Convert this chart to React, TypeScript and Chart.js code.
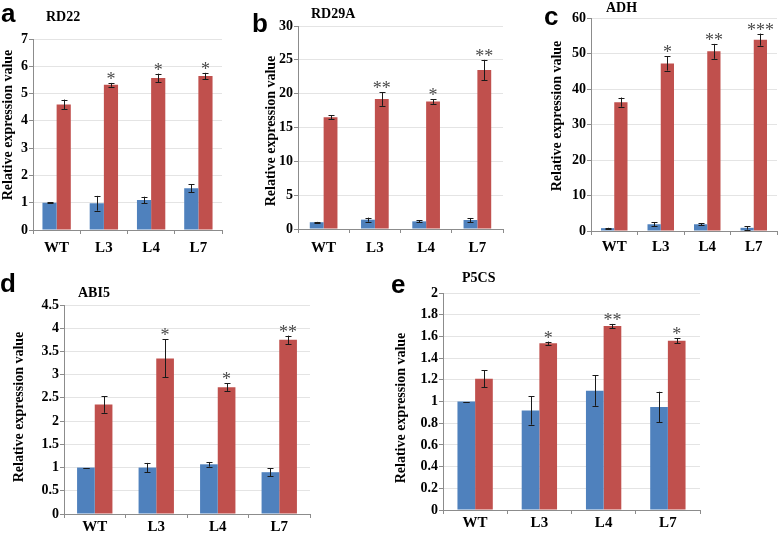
import React, { useEffect, useRef } from "react";
import { Chart, registerables } from "chart.js";
Chart.register(...registerables);

const categories = ["WT", "L3", "L4", "L7"];

const rd22Blue = [1.0, 0.98, 1.1, 1.53];
const rd22BlueErr = [0.02, 0.27, 0.12, 0.15];
const rd22Red = [4.6, 5.32, 5.57, 5.64];
const rd22RedErr = [0.18, 0.07, 0.16, 0.12];
const rd22Stars = ["", "*", "*", "*"];

const rd29aBlue = [1.0, 1.38, 1.13, 1.33];
const rd29aBlueErr = [0.05, 0.3, 0.15, 0.3];
const rd29aRed = [16.5, 19.2, 18.85, 23.5];
const rd29aRedErr = [0.3, 1.0, 0.35, 1.5];
const rd29aStars = ["", "**", "*", "**"];

const adhBlue = [0.8, 1.9, 1.9, 0.9];
const adhBlueErr = [0.1, 0.5, 0.25, 0.5];
const adhRed = [36.3, 47.2, 50.6, 53.9];
const adhRedErr = [1.3, 2.0, 2.1, 1.7];
const adhStars = ["", "*", "**", "***"];

const abi5Blue = [1.0, 1.0, 1.07, 0.9];
const abi5BlueErr = [0.0, 0.1, 0.05, 0.09];
const abi5Red = [2.36, 3.35, 2.73, 3.75];
const abi5RedErr = [0.18, 0.41, 0.08, 0.09];
const abi5Stars = ["", "*", "*", "**"];

const p5csBlue = [1.0, 0.917, 1.1, 0.95];
const p5csBlueErr = [0.0, 0.13, 0.14, 0.14];
const p5csRed = [1.21, 1.537, 1.695, 1.56];
const p5csRedErr = [0.08, 0.015, 0.02, 0.025];
const p5csStars = ["", "*", "**", "*"];

const yTitle = "Relative expression value";

const BLUE = "#4F81BD";
const RED = "#C0504D";
const SERIF = '"Liberation Serif", "Times New Roman", serif';
const SANS = '"Liberation Sans", Arial, sans-serif';
const AXIS = "#8c8c8c";
const GRID = "#e4e4e4";

const errorPlugin = {
  id: "errbars",
  afterDatasetsDraw(chart: any) {
    const ctx = chart.ctx;
    const ys = chart.scales.y;
    chart.data.datasets.forEach((ds: any, di: number) => {
      const meta = chart.getDatasetMeta(di);
      meta.data.forEach((bar: any, i: number) => {
        const v = ds.data[i];
        const e = ds.errors ? ds.errors[i] : 0;
        const x = Math.round(bar.x) + 0.5;
        const yT = ys.getPixelForValue(v + e);
        const yB = ys.getPixelForValue(v - e);
        ctx.save();
        ctx.strokeStyle = "#1a1a1a";
        ctx.lineWidth = 1;
        ctx.beginPath();
        ctx.moveTo(x, yT);
        ctx.lineTo(x, yB);
        ctx.moveTo(x - 3, Math.round(yT) + 0.5);
        ctx.lineTo(x + 3, Math.round(yT) + 0.5);
        ctx.moveTo(x - 3, Math.round(yB) + 0.5);
        ctx.lineTo(x + 3, Math.round(yB) + 0.5);
        ctx.stroke();
        if (ds.stars && ds.stars[i]) {
          ctx.fillStyle = "#4a4a4a";
          ctx.font = "18px " + SERIF;
          ctx.textAlign = "center";
          ctx.textBaseline = "alphabetic";
          ctx.fillText(ds.stars[i], bar.x, yT + 2);
        }
        ctx.restore();
      });
    });
  },
};

const yTitlePlugin = {
  id: "ytitle",
  afterDraw(chart: any, _a: any, opts: any) {
    const ctx = chart.ctx;
    ctx.save();
    ctx.translate(opts.x, opts.y);
    ctx.rotate(-Math.PI / 2);
    ctx.fillStyle = "#000";
    ctx.font = "bold 14px " + SERIF;
    ctx.textAlign = "center";
    ctx.textBaseline = "middle";
    ctx.fillText(yTitle, 0, 0);
    ctx.restore();
  },
};

type Spec = {
  left: number;
  top: number;
  width: number;
  height: number;
  axisW: number;
  xH: number;
  padTop: number;
  padRight: number;
  max: number;
  step: number;
  catPct: number;
  xPad: number;
  titleX: number;
  titleY: number;
  blue: number[];
  blueErr: number[];
  red: number[];
  redErr: number[];
  stars: string[];
};

function Panel({ s }: { s: Spec }) {
  const ref = useRef<HTMLCanvasElement>(null);
  useEffect(() => {
    const chart = new Chart(ref.current!, {
      type: "bar",
      data: {
        labels: categories,
        datasets: [
          {
            data: s.blue,
            backgroundColor: BLUE,
            borderWidth: 0,
            categoryPercentage: s.catPct,
            barPercentage: 1,
            errors: s.blueErr,
          } as any,
          {
            data: s.red,
            backgroundColor: RED,
            borderWidth: 0,
            categoryPercentage: s.catPct,
            barPercentage: 1,
            errors: s.redErr,
            stars: s.stars,
          } as any,
        ],
      },
      options: {
        animation: false,
        responsive: false,
        maintainAspectRatio: false,
        layout: { padding: { left: 0, right: s.padRight, top: s.padTop, bottom: 0 } },
        plugins: {
          legend: { display: false },
          tooltip: { enabled: false },
          ytitle: { x: s.titleX - s.left, y: s.titleY - s.top },
        },
        scales: {
          x: {
            grid: { drawOnChartArea: false, drawTicks: true, tickLength: 4, color: AXIS, offset: true },
            border: { display: true, color: AXIS },
            ticks: { color: "#000", font: { family: SERIF, size: 15, weight: "bold" }, padding: s.xPad },
            afterFit: (sc: any) => {
              sc.height = s.xH;
            },
          },
          y: {
            min: 0,
            max: s.max,
            grid: { color: GRID, tickColor: AXIS, tickLength: 4 },
            border: { display: true, color: AXIS },
            ticks: {
              stepSize: s.step,
              color: "#000",
              padding: 1,
              font: { family: SERIF, size: 14, weight: "bold" },
              callback: (v: any) => String(Math.round(Number(v) * 10) / 10),
            },
            afterFit: (sc: any) => {
              sc.width = s.axisW;
            },
          },
        },
      } as any,
      plugins: [errorPlugin, yTitlePlugin],
    });
    return () => chart.destroy();
  }, []);
  return (
    <canvas
      ref={ref}
      width={s.width}
      height={s.height}
      style={{ position: "absolute", left: s.left, top: s.top, width: s.width, height: s.height }}
    />
  );
}

const panels: Spec[] = [
  { left: 0, top: 0, width: 240, height: 265, axisW: 33, xH: 35, padTop: 39, padRight: 18, max: 7, step: 1, catPct: 0.6, xPad: 5, titleX: 8, titleY: 125, blue: rd22Blue, blueErr: rd22BlueErr, red: rd22Red, redErr: rd22RedErr, stars: rd22Stars },
  { left: 263, top: 0, width: 257, height: 265, axisW: 35, xH: 36, padTop: 26, padRight: 17, max: 30, step: 5, catPct: 0.54, xPad: 6, titleX: 271, titleY: 131, blue: rd29aBlue, blueErr: rd29aBlueErr, red: rd29aRed, redErr: rd29aRedErr, stars: rd29aStars },
  { left: 549, top: 0, width: 229, height: 265, axisW: 42, xH: 34, padTop: 18, padRight: 1, max: 60, step: 10, catPct: 0.57, xPad: 3, titleX: 557, titleY: 116, blue: adhBlue, blueErr: adhBlueErr, red: adhRed, redErr: adhRedErr, stars: adhStars },
  { left: 11, top: 270, width: 310, height: 263, axisW: 53, xH: 19, padTop: 35, padRight: 11, max: 4.5, step: 0.5, catPct: 0.575, xPad: 0, titleX: 19, titleY: 407, blue: abi5Blue, blueErr: abi5BlueErr, red: abi5Red, redErr: abi5RedErr, stars: abi5Stars },
  { left: 393, top: 270, width: 327, height: 263, axisW: 50, xH: 23, padTop: 23, padRight: 20, max: 2, step: 0.2, catPct: 0.55, xPad: 0, titleX: 401, titleY: 408, blue: p5csBlue, blueErr: p5csBlueErr, red: p5csRed, redErr: p5csRedErr, stars: p5csStars },
];

const letters = [
  { t: "a", left: 1, top: 0 },
  { t: "b", left: 252, top: 10 },
  { t: "c", left: 544, top: 3 },
  { t: "d", left: 0, top: 270 },
  { t: "e", left: 391, top: 271 },
];

const genes = [
  { t: "RD22", left: 46, top: 10 },
  { t: "RD29A", left: 311, top: 7 },
  { t: "ADH", left: 606, top: 0.5 },
  { t: "ABI5", left: 78, top: 286 },
  { t: "P5CS", left: 462, top: 270.5 },
];

export default function App() {
  return (
    <div style={{ position: "absolute", left: 0, top: 0, width: 778, height: 533, background: "#fff", overflow: "hidden" }}>
      {panels.map((p, i) => (
        <Panel key={i} s={p} />
      ))}
      {letters.map((l) => (
        <div
          key={l.t}
          style={{ position: "absolute", left: l.left, top: l.top, font: `bold 26px ${SANS}`, lineHeight: "26px", color: "#000" }}
        >
          {l.t}
        </div>
      ))}
      {genes.map((g) => (
        <div
          key={g.t}
          style={{ position: "absolute", left: g.left, top: g.top, font: `bold 14px ${SERIF}`, lineHeight: "14px", color: "#000", whiteSpace: "nowrap" }}
        >
          {g.t}
        </div>
      ))}
    </div>
  );
}
